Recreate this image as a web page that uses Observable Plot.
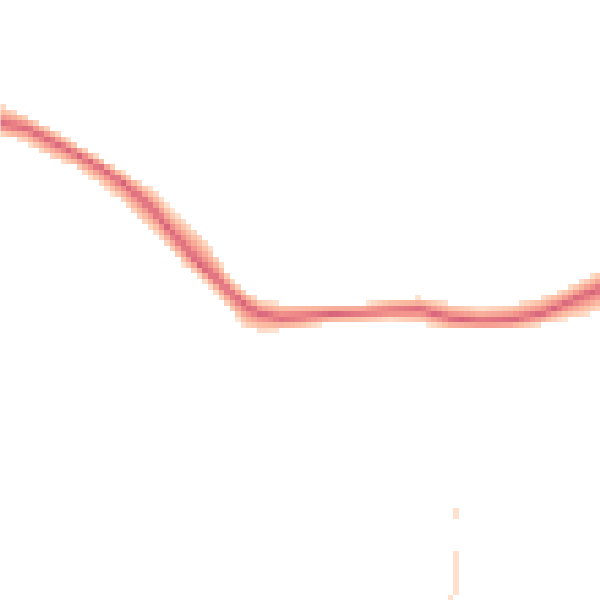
<!DOCTYPE html>
<html>
<head>
<meta charset="utf-8">
<script src="https://cdn.jsdelivr.net/npm/d3@7"></script>
<script src="https://cdn.jsdelivr.net/npm/@observablehq/plot@0.6"></script>
<style>
  html, body { margin: 0; padding: 0; background: #fff; }
</style>
</head>
<body>
<div id="chart"></div>
<script>
// Positions along the horizontal axis (0–100) where the band was read
const knotX = [0, 4.2, 8.3, 12.5, 16.7, 20.8, 23.3, 25.8, 28.3, 30.8, 33.3, 35.8, 38.3, 40.8,
  43.3, 46.7, 50, 55, 60, 65, 70, 75, 80, 85, 90, 93.3, 96.7, 100];
// Upper edge of the density band
const upper = [82.8, 80.8, 78.7, 76.3, 73.8, 71.3, 69.8, 68.3, 65.3, 63.3, 61.2, 57.8, 53.8, 51.7,
  50.0, 49.5, 49.5, 49.5, 49.3, 50.2, 50.5, 49.5, 48.8, 49.3, 50.5, 51.7, 53.3, 55.0];
// Densest ridge of the band
const core = [79.3, 78.8, 76.7, 74.5, 72.2, 69.3, 67.3, 64.7, 61.5, 58.7, 55.8, 53.7, 51.3, 49.2,
  47.8, 47.0, 47.2, 47.7, 48.0, 48.2, 48.5, 47.0, 46.5, 46.7, 47.7, 49.0, 50.7, 52.0];
// Lower edge of the density band
const lower = [77.5, 76.3, 73.8, 72.2, 69.2, 66.0, 63.3, 61.2, 58.3, 55.5, 53.8, 51.3, 48.3, 45.3,
  44.8, 45.0, 45.3, 46.2, 46.3, 46.7, 46.2, 45.0, 45.0, 45.0, 45.8, 46.7, 47.2, 48.3];
// Sparse stray samples near the bottom
const strayX = [75.9, 75.9, 75.0];
const strayTop = [15.3, 8.2, 0.8];
const strayBottom = [13.5, 0.8, 0];

const colorDomain = [0, 0.35, 0.7, 1];
const colorRange = ["#fee4d2", "#fbbfa4", "#f2918b", "#d6637b"];

const fU = d3.scaleLinear(knotX, upper);
const fC = d3.scaleLinear(knotX, core);
const fL = d3.scaleLinear(knotX, lower);
const cellW = 100 / 110;

function density(x, y) {
  for (let i = 0; i < strayX.length; ++i) {
    if (Math.abs(x - strayX[i]) < cellW / 2 && y <= strayTop[i] && y >= strayBottom[i]) return 0.04;
  }
  const u = fU(x), c = fC(x), l = fL(x);
  if (y > u || y < l) return NaN;
  const d = y >= c ? (y - c) / (u - c) : (c - y) / (c - l);
  return Math.max(0, 1 - d);
}

const chart = Plot.plot({
  width: 600,
  height: 600,
  margin: 0,
  x: {domain: [0, 100], axis: null},
  y: {domain: [0, 100], axis: null},
  color: {type: "linear", domain: colorDomain, range: colorRange, interpolate: "rgb"},
  style: {background: "#fff"},
  marks: [
    Plot.raster({
      fill: density,
      x1: 0, x2: 100, y1: 0, y2: 100,
      pixelSize: 600 / 110,
      imageRendering: "pixelated"
    })
  ]
});
document.getElementById("chart").appendChild(chart);
</script>
</body>
</html>
